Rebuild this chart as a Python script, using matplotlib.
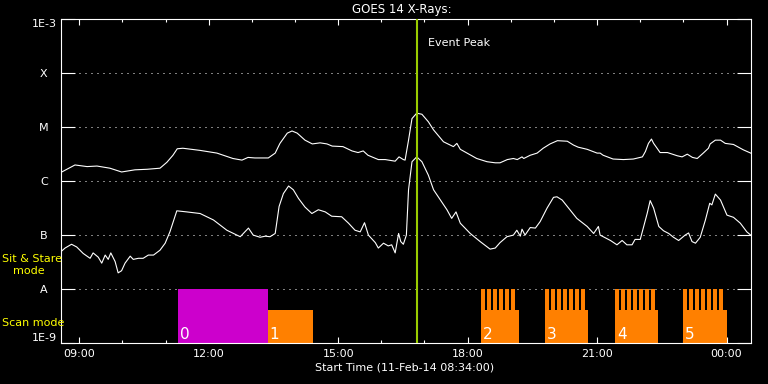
import matplotlib
matplotlib.use("Agg")
import matplotlib.pyplot as plt
import matplotlib.transforms as mtransforms
from matplotlib.ticker import NullLocator
import numpy as np

# ---------------------------------------------------------------------------
# Data (time = decimal hours of 11-Feb-2014, >24 = next day; flux as log10 W/m^2)
# ---------------------------------------------------------------------------
t_long = [8.57, 8.90, 9.18, 9.41, 9.71, 9.98, 10.29, 10.57, 10.87, 11.03,
          11.17, 11.27, 11.40, 11.80, 12.19, 12.56, 12.77, 12.91, 13.07, 13.38,
          13.54, 13.65, 13.82, 13.93, 14.05, 14.23, 14.40, 14.58, 14.74, 14.86,
          15.11, 15.32, 15.46, 15.58, 15.69, 15.93, 16.09, 16.32, 16.41, 16.51,
          16.55, 16.63, 16.71, 16.82, 16.94, 17.09, 17.21, 17.44, 17.67, 17.75,
          17.83, 18.21, 18.45, 18.64, 18.75, 18.92, 19.06, 19.15, 19.26, 19.30,
          19.45, 19.61, 19.75, 19.91, 20.08, 20.31, 20.45, 20.56, 20.77, 21.00,
          21.07, 21.14, 21.37, 21.61, 21.84, 22.05, 22.12, 22.19, 22.26, 22.31,
          22.39, 22.46, 22.63, 22.86, 22.97, 23.09, 23.21, 23.32, 23.46, 23.58,
          23.62, 23.74, 23.86, 23.97, 24.16, 24.39, 24.56]
log_long = [-5.84, -5.70, -5.73, -5.72, -5.76, -5.83, -5.79, -5.78, -5.76, -5.65,
            -5.52, -5.40, -5.39, -5.43, -5.48, -5.58, -5.61, -5.56, -5.57, -5.57,
            -5.48, -5.30, -5.11, -5.07, -5.11, -5.24, -5.31, -5.29, -5.31, -5.35,
            -5.36, -5.44, -5.47, -5.44, -5.52, -5.60, -5.60, -5.63, -5.55, -5.60,
            -5.61, -5.24, -4.84, -4.74, -4.76, -4.90, -5.05, -5.27, -5.36, -5.30,
            -5.41, -5.58, -5.64, -5.66, -5.66, -5.60, -5.58, -5.60, -5.55, -5.58,
            -5.52, -5.48, -5.39, -5.31, -5.25, -5.26, -5.33, -5.37, -5.41, -5.48,
            -5.48, -5.52, -5.59, -5.60, -5.59, -5.55, -5.45, -5.30, -5.22, -5.30,
            -5.39, -5.47, -5.47, -5.53, -5.55, -5.50, -5.56, -5.58, -5.48, -5.39,
            -5.31, -5.24, -5.24, -5.30, -5.32, -5.42, -5.48]

t_short = [8.57, 8.67, 8.82, 8.94, 9.09, 9.25, 9.32, 9.44, 9.52, 9.60,
           9.67, 9.73, 9.83, 9.90, 9.98, 10.06, 10.18, 10.25, 10.37, 10.48,
           10.60, 10.72, 10.87, 10.99, 11.10, 11.26, 11.49, 11.80, 12.11, 12.42,
           12.73, 12.92, 13.03, 13.19, 13.31, 13.42, 13.54, 13.63, 13.73, 13.85,
           13.96, 14.08, 14.23, 14.39, 14.54, 14.70, 14.85, 15.08, 15.24, 15.39,
           15.51, 15.61, 15.70, 15.86, 15.93, 16.05, 16.16, 16.24, 16.32, 16.40,
           16.45, 16.51, 16.58, 16.63, 16.71, 16.82, 16.94, 17.09, 17.21, 17.37,
           17.52, 17.63, 17.73, 17.83, 18.06, 18.29, 18.52, 18.64, 18.75, 18.91,
           19.06, 19.14, 19.22, 19.26, 19.33, 19.45, 19.57, 19.68, 19.84, 19.99,
           20.07, 20.19, 20.34, 20.53, 20.77, 20.92, 21.03, 21.07, 21.31, 21.46,
           21.58, 21.69, 21.81, 21.88, 22.00, 22.08, 22.16, 22.23, 22.31, 22.43,
           22.54, 22.66, 22.77, 22.89, 23.04, 23.12, 23.20, 23.28, 23.39, 23.51,
           23.61, 23.66, 23.74, 23.86, 24.01, 24.16, 24.32, 24.47, 24.56]
log_short = [-7.31, -7.24, -7.17, -7.22, -7.34, -7.43, -7.33, -7.41, -7.52, -7.37,
             -7.45, -7.33, -7.49, -7.70, -7.66, -7.52, -7.39, -7.45, -7.43, -7.43,
             -7.37, -7.37, -7.28, -7.15, -6.94, -6.55, -6.57, -6.60, -6.72, -6.91,
             -7.03, -6.87, -7.00, -7.04, -7.02, -7.03, -6.97, -6.47, -6.23, -6.09,
             -6.16, -6.32, -6.48, -6.60, -6.53, -6.57, -6.65, -6.66, -6.78, -6.91,
             -6.94, -6.77, -7.00, -7.14, -7.24, -7.15, -7.20, -7.18, -7.33, -6.97,
             -7.12, -7.17, -7.00, -6.16, -5.64, -5.55, -5.64, -5.89, -6.16, -6.35,
             -6.53, -6.69, -6.57, -6.78, -6.97, -7.12, -7.26, -7.24, -7.14, -7.03,
             -7.00, -6.91, -7.02, -6.89, -7.00, -6.86, -6.87, -6.75, -6.50, -6.30,
             -6.29, -6.35, -6.50, -6.69, -6.84, -6.97, -6.84, -7.00, -7.10, -7.18,
             -7.10, -7.18, -7.18, -7.08, -7.08, -6.84, -6.60, -6.36, -6.50, -6.84,
             -6.92, -6.97, -7.04, -7.10, -7.00, -6.96, -7.12, -7.15, -7.04, -6.72,
             -6.41, -6.44, -6.24, -6.35, -6.63, -6.67, -6.78, -6.94, -7.00]

levels = [1e-3, 1e-4, 1e-5, 1e-6, 1e-7, 1e-8, 1e-9]
level_labels = ["1E-3", "X", "M", "C", "B", "A", "1E-9"]

hour_ticks = [9, 12, 15, 18, 21, 24]
hour_labels = ["09:00", "12:00", "15:00", "18:00", "21:00", "00:00"]

T_START = 8 + 34 / 60
T_END = 24 + 34 / 60
EVENT_PEAK = 16.83

# observing modes
stare_start = [11.29]
stare_end = [13.37]
stare_label = ["0"]
scan_start = [13.37, 18.31, 19.80, 21.42, 23.00]
scan_end = [14.41, 19.20, 20.80, 22.42, 24.00]
scan_label = ["1", "2", "3", "4", "5"]
scan_n_stares = [0, 6, 7, 7, 7]

STARE_LEVEL = 1e-8
SCAN_LEVEL = 4.1e-9
STARE_PERIOD = 0.139   # h between short sit&stare slots inside scan blocks
STARE_WIDTH = 0.095

MAGENTA = "#cc00cc"
ORANGE = "#ff8000"
EVENT_COLOR = "#99cc00"
YELLOW = "#ffff00"
FS = 8

# ---------------------------------------------------------------------------
fig = plt.figure(figsize=(7.68, 3.84), dpi=100, facecolor="black")
ax = fig.add_axes([60.6 / 768, 41 / 384, 690.4 / 768, 323.7 / 384])
ax.set_facecolor("black")
ax.set_yscale("log")
ax.set_ylim(1e-9, 1e-3)
ax.set_xlim(T_START, T_END)

# level grid (dotted)
for lv in levels[1:-1]:
    ax.axhline(lv, color="white", lw=0.72, ls=(0, (1, 5)), zorder=1)

# mode blocks
for s, e in zip(stare_start, stare_end):
    ax.bar(s, STARE_LEVEL - 1e-9, width=e - s, bottom=1e-9, align="edge",
           color=MAGENTA, linewidth=0, antialiased=False, zorder=2)
for s, e, n in zip(scan_start, scan_end, scan_n_stares):
    ax.bar(s, SCAN_LEVEL - 1e-9, width=e - s, bottom=1e-9, align="edge",
           color=ORANGE, linewidth=0, antialiased=False, zorder=2)
    for k in range(n):
        ax.bar(s + k * STARE_PERIOD, STARE_LEVEL - 1e-9, width=STARE_WIDTH,
               bottom=1e-9, align="edge", color=ORANGE, linewidth=0,
               antialiased=False, zorder=2)

for s, lbl in zip(stare_start + scan_start, stare_label + scan_label):
    ax.annotate(lbl, xy=(s, 1e-9), xytext=(1.2, 3.2), textcoords="offset points",
                color="white", fontsize=11, ha="left", va="baseline", zorder=5)

# curves
ax.plot(t_long, 10 ** np.array(log_long), color="white", lw=0.8, zorder=3)
ax.plot(t_short, 10 ** np.array(log_short), color="white", lw=0.8, zorder=3)

# event peak
ax.axvline(EVENT_PEAK, color=EVENT_COLOR, lw=1.5, zorder=4)
trans = mtransforms.blended_transform_factory(ax.transData, ax.transAxes)
ax.annotate("Event Peak", xy=(EVENT_PEAK, 0.927), xycoords=trans,
            xytext=(7.7, 0), textcoords="offset points",
            color="white", fontsize=FS, ha="left", va="center")

# axes styling
for side in ("top", "right", "left", "bottom"):
    ax.spines[side].set_color("white")
    ax.spines[side].set_linewidth(0.8)

ax.set_yticks(levels)
ax.set_yticklabels(level_labels, ha="center")
ax.yaxis.set_minor_locator(NullLocator())
ax.tick_params(axis="y", which="major", direction="in", length=10, width=0.8,
               colors="white", left=True, right=True, pad=12, labelsize=FS)
ylabels = ax.get_yticklabels()
ylabels[0].set_va("top")
ylabels[-1].set_va("bottom")

ax.set_xticks(hour_ticks)
ax.set_xticklabels(hour_labels)
ax.set_xticks(np.arange(9, 25), minor=True)
ax.tick_params(axis="x", which="both", direction="in", colors="white",
               top=True, bottom=True, labelsize=FS)
ax.tick_params(axis="x", which="major", length=4.3, width=0.8, pad=4)
ax.tick_params(axis="x", which="minor", length=2.5, width=0.8)

# texts
fig.text(401.7 / 768, 1 - 10 / 384, "GOES 14 X-Rays:", color="white",
         fontsize=8.5, ha="center", va="center")
fig.text(405 / 768, 1 - 368 / 384, "Start Time (11-Feb-14 08:34:00)",
         color="white", fontsize=FS, ha="center", va="center")
fig.text(2 / 768, 1 - 259 / 384, "Sit & Stare", color=YELLOW, fontsize=FS,
         ha="left", va="center")
fig.text(13 / 768, 1 - 271 / 384, "mode", color=YELLOW, fontsize=FS,
         ha="left", va="center")
fig.text(2 / 768, 1 - 323.5 / 384, "Scan mode", color=YELLOW, fontsize=FS,
         ha="left", va="center")

fig.savefig("out.png", dpi=100, facecolor="black")
